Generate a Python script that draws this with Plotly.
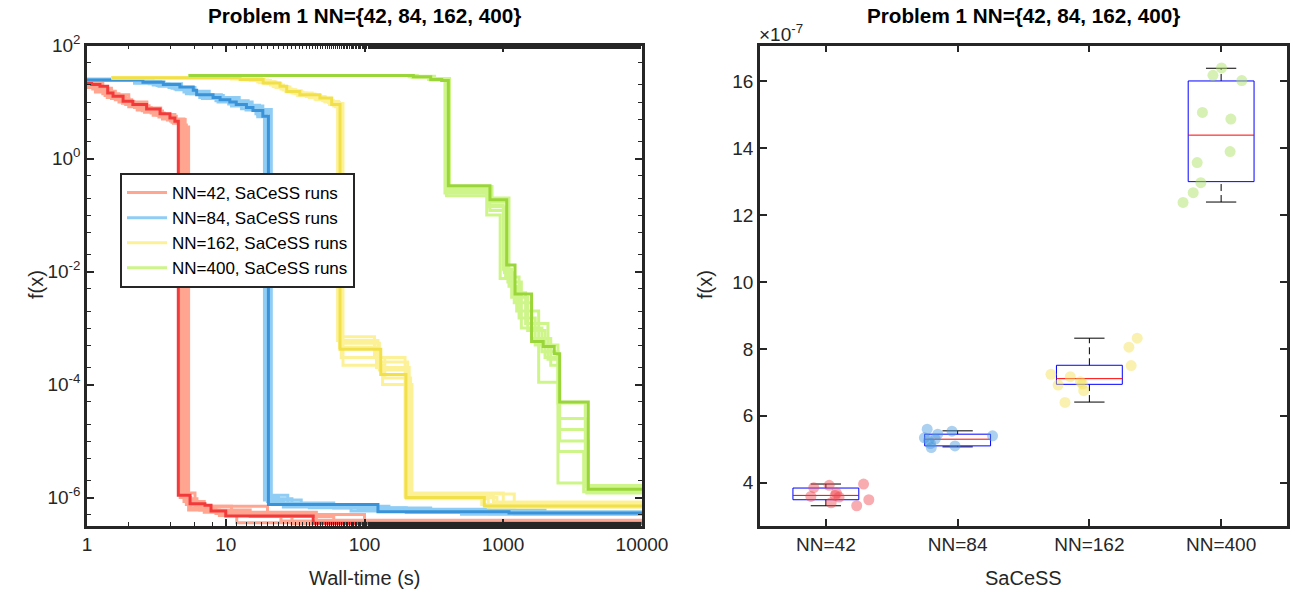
import plotly.graph_objects as go

# ================= LEFT PANEL: convergence curves (wall-time [s], f(x)) =================
group_names = ["NN=42, SaCeSS runs", "NN=84, SaCeSS runs", "NN=162, SaCeSS runs", "NN=400, SaCeSS runs"]
bold_colors = ["#f23a3a", "#3a93d8", "#f2e04a", "#9ad63a"]
light_colors = ["#ffa590", "#8fcdf5", "#fdf197", "#cdf58a"]

# --- NN=42 ---
nn42_main_t = [1.0, 1.08, 1.24, 1.41, 1.54, 1.82, 2.14, 2.69, 3.36, 3.96, 4.3, 4.55, 5.53, 7.08, 7.83, 10.0, 42.7, 10000]
nn42_main_f = [21.8, 20.4, 19.0, 14.5, 12.6, 10.3, 9.0, 7.5, 6.2, 5.2, 4.55, 1.1e-6, 7.8e-7, 7.3e-7, 5.8e-7, 4.7e-7, 3.5e-7, 3.5e-7]
nn42_runs_t = [
    [1.0, 1.2, 1.5, 2.0, 2.6, 3.3, 4.0, 4.7, 5.6, 8.5, 25, 10000],
    [1.0, 1.15, 1.4, 1.8, 2.3, 3.0, 3.8, 4.6, 5.2, 6.5, 15, 60, 10000],
    [1.0, 1.3, 1.7, 2.2, 2.9, 3.6, 4.4, 5.0, 7.0, 12, 10000],
    [1.0, 1.1, 1.35, 1.9, 2.5, 3.2, 4.1, 4.9, 5.4, 9, 30, 10000],
    [1.0, 1.25, 1.6, 2.1, 2.8, 3.5, 4.2, 4.8, 6.0, 20, 100, 10000],
    [1.0, 1.2, 1.5, 2.0, 2.7, 3.4, 4.3, 5.1, 6.2, 11, 45, 10000],
]
nn42_runs_f = [
    [20, 16, 11.5, 8.2, 6.6, 5.4, 4.6, 1.0e-6, 6.6e-7, 5.2e-7, 3.85e-7, 3.85e-7],
    [18, 15, 12, 9.5, 7.2, 5.8, 4.8, 3.9, 7.5e-7, 6.0e-7, 4.6e-7, 3.92e-7, 3.92e-7],
    [22, 14, 10, 8.0, 6.4, 5.6, 5.0, 8.5e-7, 5.5e-7, 3.59e-7, 3.59e-7],
    [19, 17, 13, 9.0, 7.0, 5.9, 4.4, 3.6, 6.0e-7, 4.8e-7, 3.4e-7, 3.4e-7],
    [21, 15.5, 11, 8.6, 6.9, 5.0, 4.2, 1.2e-6, 7.0e-7, 5.0e-7, 3.31e-7, 3.31e-7],
    [23, 17.5, 13.5, 10, 7.8, 6.0, 4.9, 9.5e-7, 7.0e-7, 5.5e-7, 3.96e-7, 3.96e-7],
]

# --- NN=84 ---
nn84_main_t = [1.0, 2.53, 3.55, 4.67, 5.83, 6.17, 8.1, 9.1, 10.7, 11.9, 14.1, 15.7, 18.5, 20.3, 125, 1100, 10000]
nn84_main_f = [24.5, 22.3, 20.4, 18.5, 16.1, 13.5, 12.0, 11.0, 10.0, 9.0, 8.0, 7.1, 5.6, 7.5e-7, 5.6e-7, 5.3e-7, 5.3e-7]
nn84_runs_t = [
    [1, 2.2, 3.2, 4.3, 5.5, 7.0, 9.0, 12.0, 15.0, 18.0, 21.0, 24, 60, 300, 10000],
    [1, 2.8, 3.9, 5.0, 6.5, 8.5, 10.5, 13.0, 16.5, 19.0, 35, 150, 2000, 10000],
    [1, 2.4, 3.4, 4.8, 6.0, 7.6, 9.6, 12.5, 15.5, 18.5, 20.8, 28, 90, 800, 10000],
    [1, 3.0, 4.1, 5.2, 6.8, 8.8, 11, 14, 17, 20, 26, 80, 500, 10000],
    [1, 2.6, 3.6, 4.5, 5.8, 7.4, 9.3, 11.5, 14.5, 17.5, 21.3, 40, 200, 10000],
    [1, 2.3, 3.3, 4.4, 5.6, 7.2, 9.0, 11.2, 14, 17, 19.8, 30, 120, 1200, 10000],
]
nn84_runs_f = [
    [24, 21.5, 19.5, 17, 14.5, 12.8, 11.5, 9.5, 8.0, 6.5, 1.0e-6, 8.0e-7, 6.5e-7, 5.6e-7, 5.6e-7],
    [25.5, 21, 18, 15, 12, 10.5, 9.2, 7.6, 6.2, 9.0e-7, 7.0e-7, 6.0e-7, 5.34e-7, 5.34e-7],
    [24.5, 23, 21, 18, 15.5, 13, 12, 10, 8.5, 7.0, 1.1e-6, 7.5e-7, 6.2e-7, 5.17e-7, 5.17e-7],
    [25, 20, 17.5, 14, 11.5, 10, 8.5, 7.2, 5.5, 8.5e-7, 6.8e-7, 5.8e-7, 5.05e-7, 5.05e-7],
    [25, 22.5, 20, 18, 15, 13.5, 11.8, 10.5, 8.8, 7.4, 7.7e-7, 6.6e-7, 5.45e-7, 5.45e-7],
    [24, 22, 19, 16.5, 14, 12.2, 10.8, 9.8, 7.8, 6.0, 9.5e-7, 7.2e-7, 6.0e-7, 5.1e-7, 5.1e-7],
]

# --- NN=162 ---
nn162_main_t = [1.5, 12.7, 18.6, 24.6, 27.5, 34.2, 47.7, 58, 66.6, 131, 199, 730, 10000]
nn162_main_f = [27, 25, 21.8, 19, 15.4, 13.5, 11.8, 9.0, 4.2e-4, 1.5e-4, 1.0e-6, 7.1e-7, 7.1e-7]
nn162_runs_t = [
    [1.5, 11, 17, 23, 27, 33, 45, 56, 64, 125, 205, 850, 10000],
    [1.5, 14, 20, 25, 30, 38, 50, 60, 68, 140, 215, 1000, 10000],
    [1.5, 12, 18, 22.5, 26, 31, 42, 52, 65, 118, 196, 700, 10000],
    [1.5, 13, 19, 24, 29, 36, 48, 58, 70, 135, 220, 1200, 10000],
    [1.5, 15, 21, 26, 32, 40, 52, 62, 67, 128, 200, 780, 10000],
    [1.5, 12, 17.5, 22, 28, 35, 44, 55, 66, 122, 210, 900, 10000],
]
nn162_runs_f = [
    [27, 25.5, 22.5, 18, 15.5, 13, 11, 9.0, 6.0e-4, 2.5e-4, 1.1e-6, 8.3e-7, 8.3e-7],
    [27, 24.5, 21, 17, 14.5, 12.5, 10.5, 8.5, 3.0e-4, 1.3e-4, 1.2e-6, 8.05e-7, 8.05e-7],
    [27, 26, 23, 19.5, 16.5, 14.5, 12.5, 10.2, 7.0e-4, 3.0e-4, 1.05e-6, 7.5e-7, 7.5e-7],
    [27, 25, 21.5, 18.5, 15, 13, 11.5, 9.4, 2.2e-4, 1.0e-4, 1.15e-6, 6.95e-7, 6.95e-7],
    [27, 24, 20, 16.5, 14, 12, 10, 8.2, 5.4e-4, 1.8e-4, 9.5e-7, 6.75e-7, 6.75e-7],
    [27, 25.8, 22, 18.8, 15.8, 13.8, 11.2, 9.8, 4.5e-4, 2.0e-4, 1.0e-6, 7.24e-7, 7.24e-7],
]

# --- NN=400 ---
nn400_main_t = [5.4, 225, 300, 360, 402, 802, 1059, 1216, 1600, 1940, 2330, 2550, 4100, 10000]
nn400_main_f = [29.5, 28, 25, 24, 0.33, 0.186, 0.0131, 4.0e-3, 5.8e-4, 4.7e-4, 3.5e-4, 4.9e-5, 1.4e-6, 1.4e-6]
nn400_runs_t = [
    [5.4, 230, 310, 385, 800, 1040, 1300, 1700, 2480, 3900, 10000],
    [5.4, 220, 300, 395, 780, 1000, 1150, 1500, 2000, 2500, 4050, 10000],
    [5.4, 240, 320, 410, 830, 1100, 1250, 1800, 2550, 4100, 10000],
    [5.4, 210, 290, 380, 760, 950, 1200, 1600, 2200, 2500, 3800, 10000],
    [5.4, 235, 305, 400, 820, 1080, 1350, 1900, 2480, 4000, 10000],
    [5.4, 225, 315, 390, 790, 1020, 1180, 1450, 2100, 2530, 3950, 10000],
]
nn400_runs_f = [
    [29.5, 28, 25.5, 0.30, 0.12, 8.0e-3, 1.5e-3, 5.0e-4, 4.7e-5, 1.64e-6, 1.64e-6],
    [29.5, 27.5, 24.5, 0.26, 0.15, 1.1e-2, 3.5e-3, 9.0e-4, 3.0e-4, 2.5e-5, 1.5e-6, 1.5e-6],
    [29.5, 28.5, 26, 0.32, 0.2, 5.5e-3, 2.0e-3, 1.1e-4, 1.0e-5, 1.38e-6, 1.38e-6],
    [29.5, 28, 25, 0.245, 0.1, 7.5e-3, 2.8e-3, 6.5e-4, 2.2e-4, 6.5e-6, 1.27e-6, 1.27e-6],
    [29.5, 27.8, 25.2, 0.28, 0.17, 6.5e-3, 1.0e-3, 3.8e-4, 1.8e-6, 1.2e-6, 1.2e-6],
    [29.5, 28.2, 24.8, 0.22, 0.14, 9.5e-3, 4.2e-3, 1.2e-3, 2.8e-4, 1.6e-5, 1.57e-6, 1.57e-6],
]

left_xticks = [1, 10, 100, 1000, 10000]
left_xticktext = ["1", "10", "100", "1000", "10000"]
left_yticks = [1e-6, 1e-4, 1e-2, 1, 100]
left_yticktext = ["10<sup>-6</sup>", "10<sup>-4</sup>", "10<sup>-2</sup>", "10<sup>0</sup>", "10<sup>2</sup>"]

# ================= RIGHT PANEL: final f(x) (units of 1e-7) =================
categories = ["NN=42", "NN=84", "NN=162", "NN=400"]
cat_pos = [1, 2, 3, 4]
nn42_x = [0.908, 1.025, 0.886, 1.04, 1.08, 1.10, 1.07, 1.234, 1.286, 1.326]
nn42_v = [3.85, 3.92, 3.59, 3.40, 3.69, 3.57, 3.62, 3.31, 3.96, 3.49]
nn84_x = [1.769, 1.748, 1.794, 1.80, 1.849, 1.957, 1.98, 2.265, 1.78, 1.83]
nn84_v = [5.60, 5.34, 5.17, 5.05, 5.45, 5.54, 5.10, 5.40, 5.27, 5.30]
nn162_x = [2.708, 2.763, 2.855, 2.932, 2.957, 2.815, 3.30, 3.363, 3.317, 2.948]
nn162_v = [7.24, 6.92, 7.17, 7.02, 6.75, 6.40, 8.05, 8.32, 7.50, 6.95]
nn400_x = [4.003, 3.938, 4.157, 3.858, 4.074, 4.068, 3.818, 3.846, 3.788, 3.711]
nn400_v = [16.40, 16.18, 16.02, 15.07, 14.87, 13.90, 13.57, 12.97, 12.67, 12.38]
point_colors = ["rgba(240,70,80,0.45)", "rgba(70,150,220,0.45)", "rgba(245,225,80,0.45)", "rgba(175,225,105,0.5)"]

box_q1 = [3.49, 5.10, 6.94, 13.00]
box_med = [3.62, 5.30, 7.11, 14.39]
box_q3 = [3.84, 5.45, 7.51, 16.01]
box_lo = [3.31, 5.07, 6.41, 12.39]
box_hi = [3.96, 5.55, 8.32, 16.39]
right_yticks = [4, 6, 8, 10, 12, 14, 16]

BOX_HALF = 0.25
CAP_HALF = 0.115

FONT = "Liberation Sans"
AX = "#262626"
W, H = 1298, 594

fig = go.Figure()

groups = [
    (nn42_main_t, nn42_main_f, nn42_runs_t, nn42_runs_f),
    (nn84_main_t, nn84_main_f, nn84_runs_t, nn84_runs_f),
    (nn162_main_t, nn162_main_f, nn162_runs_t, nn162_runs_f),
    (nn400_main_t, nn400_main_f, nn400_runs_t, nn400_runs_f),
]
for gi, (mt, mf, rts, rfs) in enumerate(groups):
    for ri, (rt, rf) in enumerate(zip(rts, rfs)):
        fig.add_trace(go.Scatter(
            x=rt, y=rf, mode="lines", xaxis="x", yaxis="y",
            line=dict(color=light_colors[gi], width=3, shape="hv"),
            name=group_names[gi], showlegend=(ri == 0), legendrank=gi + 1,
            hoverinfo="skip"))
    fig.add_trace(go.Scatter(
        x=mt, y=mf, mode="lines", xaxis="x", yaxis="y",
        line=dict(color=bold_colors[gi], width=3, shape="hv"),
        showlegend=False, hoverinfo="skip"))

# right panel: boxes
for i, c in enumerate(cat_pos):
    fig.add_trace(go.Scatter(x=[c, c], y=[box_q3[i], box_hi[i]], mode="lines", xaxis="x2", yaxis="y2",
                             line=dict(color="black", width=1, dash="7px,4px"), showlegend=False, hoverinfo="skip"))
    fig.add_trace(go.Scatter(x=[c, c], y=[box_lo[i], box_q1[i]], mode="lines", xaxis="x2", yaxis="y2",
                             line=dict(color="black", width=1, dash="7px,4px"), showlegend=False, hoverinfo="skip"))
    for yv in (box_hi[i], box_lo[i]):
        fig.add_trace(go.Scatter(x=[c - CAP_HALF, c + CAP_HALF], y=[yv, yv], mode="lines", xaxis="x2", yaxis="y2",
                                 line=dict(color="black", width=1), showlegend=False, hoverinfo="skip"))
    fig.add_trace(go.Scatter(x=[c - BOX_HALF, c + BOX_HALF, c + BOX_HALF, c - BOX_HALF, c - BOX_HALF],
                             y=[box_q1[i], box_q1[i], box_q3[i], box_q3[i], box_q1[i]], mode="lines",
                             xaxis="x2", yaxis="y2", line=dict(color="#0000ff", width=1),
                             showlegend=False, hoverinfo="skip"))
    fig.add_trace(go.Scatter(x=[c - BOX_HALF, c + BOX_HALF], y=[box_med[i], box_med[i]], mode="lines",
                             xaxis="x2", yaxis="y2", line=dict(color="#ff0000", width=1),
                             showlegend=False, hoverinfo="skip"))

for xs, vs, col in zip([nn42_x, nn84_x, nn162_x, nn400_x], [nn42_v, nn84_v, nn162_v, nn400_v], point_colors):
    fig.add_trace(go.Scatter(x=xs, y=vs, mode="markers", xaxis="x2", yaxis="y2",
                             marker=dict(color=col, size=11, line=dict(width=0)),
                             showlegend=False, hoverinfo="skip"))

axis_common = dict(showline=True, linecolor=AX, linewidth=2.5, mirror="allticks", ticks="inside",
                   ticklen=7, tickwidth=1.5, tickcolor=AX, showgrid=False, zeroline=False,
                   automargin=False, tickfont=dict(family=FONT, size=19, color=AX))


def px(x):
    return x / W


def py(y):
    return 1 - y / H


y_dom = [py(525.5), py(45.5)]
fig.update_layout(
    width=W, height=H, margin=dict(l=0, r=0, t=0, b=0, pad=0, autoexpand=False),
    paper_bgcolor="white", plot_bgcolor="white",
    font=dict(family=FONT, size=19, color=AX),
    xaxis=dict(domain=[px(87), px(642)], anchor="y", type="log", range=[0, 4],
               tickvals=left_xticks, ticktext=left_xticktext,
               minor=dict(ticks="inside", ticklen=4, tickcolor=AX, tickwidth=1), **axis_common),
    yaxis=dict(domain=y_dom, anchor="x", type="log", range=[-6.495, 2],
               tickvals=left_yticks, ticktext=left_yticktext,
               minor=dict(ticks="inside", ticklen=4, tickcolor=AX, tickwidth=1), **axis_common),
    xaxis2=dict(domain=[px(760), px(1287)], anchor="y2", range=[0.5, 4.5],
                tickvals=cat_pos, ticktext=categories, **axis_common),
    yaxis2=dict(domain=y_dom, anchor="x2", range=[2.72, 17.07],
                tickvals=right_yticks, ticktext=[str(v) for v in right_yticks], **axis_common),
    legend=dict(x=px(120), y=py(173), xanchor="left", yanchor="top",
                bgcolor="white", bordercolor=AX, borderwidth=2,
                font=dict(family=FONT, size=17, color="black"), itemwidth=40,
                tracegroupgap=0),
    showlegend=True,
)

ann = [
    dict(text="<b>Problem 1 NN={42, 84, 162, 400}</b>", x=px(364), y=py(15), size=20.7, color="black"),
    dict(text="<b>Problem 1 NN={42, 84, 162, 400}</b>", x=px(1023), y=py(15), size=20.7, color="black"),
    dict(text="Wall-time (s)", x=px(364), y=py(578), size=20, color=AX),
    dict(text="SaCeSS", x=px(1023), y=py(578), size=20, color=AX),
    dict(text="f(x)", x=px(36), y=py(285), size=20, color=AX, textangle=-90),
    dict(text="f(x)", x=px(705), y=py(285), size=20, color=AX, textangle=-90),
]
for a in ann:
    size = a.pop("size")
    color = a.pop("color")
    fig.add_annotation(xref="paper", yref="paper", showarrow=False, xanchor="center", yanchor="middle",
                       font=dict(family=FONT, size=size, color=color), **a)
fig.add_annotation(xref="paper", yref="paper", showarrow=False, xanchor="left", yanchor="middle",
                   x=px(757), y=py(33), text="×10<sup>-7</sup>",
                   font=dict(family=FONT, size=19, color=AX))

fig.write_html("out.html", config={"displayModeBar": False},
               post_script="document.body.style.margin='0';document.body.style.overflow='hidden';")
